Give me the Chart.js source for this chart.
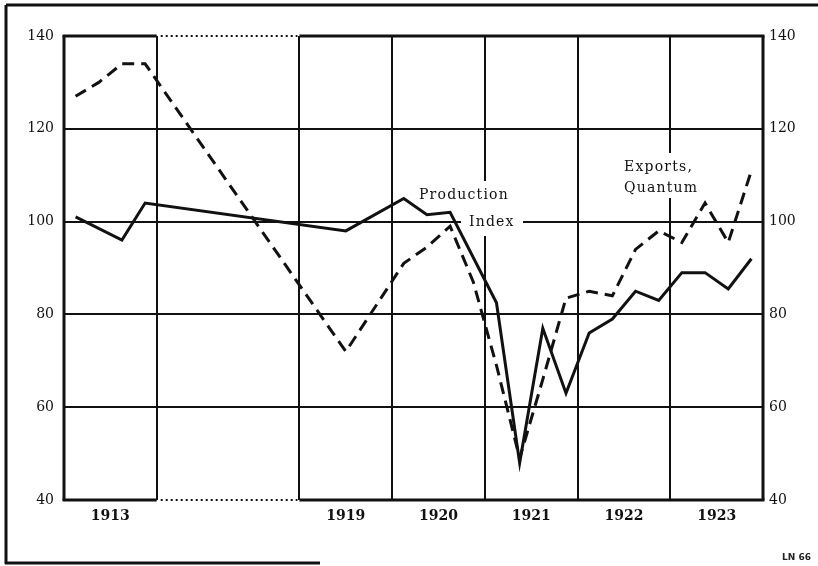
<!DOCTYPE html>
<html>
<head>
<meta charset="utf-8">
<script src="https://cdn.jsdelivr.net/npm/chart.js@4.4.0/dist/chart.umd.min.js"></script>
<style>
  html, body { margin: 0; padding: 0; background: #fff; }
  #wrap { width: 818px; height: 566px; position: relative; }
</style>
</head>
<body>
<div id="wrap"><canvas id="chart" width="818" height="566"></canvas></div>
<script>
// quarters of 1913, mid 1919, quarters 1920-1923
const periods = [1913.125, 1913.375, 1913.625, 1913.875, 1919.5,
  1920.125, 1920.375, 1920.625, 1920.875,
  1921.125, 1921.375, 1921.625, 1921.875,
  1922.125, 1922.375, 1922.625, 1922.875,
  1923.125, 1923.375, 1923.625, 1923.875];
const production = [101, null, 96, 104, 98,
  105, 101.5, 102, null,
  82.5, 48, 77, 63,
  76, 79, 85, 83,
  89, 89, 85.5, 92];
const exportsQty = [127, 130, 134, 134, 72,
  91, 94.5, 99, 87,
  69, 49, 66, 83.5,
  85, 84, 94, 98,
  95.5, 104, 95.5, 111];
const yearLabels = ['1913', '1919', '1920', '1921', '1922', '1923'];
const yearStarts = [1913, 1919, 1920, 1921, 1922, 1923];
const yTicks = [40, 60, 80, 100, 120, 140];

// the axis is broken between 1914 and 1919
const GAP = 1.54;
const pos = (t) => (t < 1919 ? t - 1913 + 1918 - GAP : t);

const X_MIN = pos(1913), X_MAX = 1924;
const boundaries = [pos(1914), 1919, 1920, 1921, 1922, 1923];
const centers = yearStarts.map((y) => pos(y + 0.5));

const toPoints = (arr) => periods.map((t, i) => ({ x: pos(t), y: arr[i] }));

const frame = {
  id: 'frame',
  beforeDatasetsDraw(chart) {
    const { ctx, chartArea: a, scales } = chart;
    const xs = scales.x;
    const g1 = xs.getPixelForValue(pos(1914));
    const g2 = xs.getPixelForValue(1919);
    ctx.save();
    ctx.strokeStyle = '#111';
    ctx.lineCap = 'butt';
    // top and bottom edges, dotted across the break
    [a.top, a.bottom].forEach((y) => {
      ctx.lineWidth = 3;
      ctx.setLineDash([]);
      ctx.beginPath();
      ctx.moveTo(a.left - 1.5, y); ctx.lineTo(g1, y);
      ctx.moveTo(g2, y); ctx.lineTo(a.right + 1.5, y);
      ctx.stroke();
      ctx.lineWidth = 2.2;
      ctx.setLineDash([2, 3]);
      ctx.beginPath();
      ctx.moveTo(g1 + 4, y); ctx.lineTo(g2 - 2, y);
      ctx.stroke();
    });
    ctx.setLineDash([]);
    ctx.lineWidth = 3;
    ctx.beginPath();
    ctx.moveTo(a.left, a.top); ctx.lineTo(a.left, a.bottom);
    ctx.moveTo(a.right, a.top); ctx.lineTo(a.right, a.bottom);
    ctx.stroke();

    // white patches behind the series labels
    ctx.fillStyle = '#fff';
    ctx.fillRect(461, 181, 62, 55);
    ctx.fillRect(614, 153, 98, 45);

    ctx.fillStyle = '#111';
    ctx.font = '14px "DejaVu Serif"';
    ctx.textBaseline = 'middle';
    ctx.textAlign = 'left';
    if ('letterSpacing' in ctx) ctx.letterSpacing = '1.2px';
    ctx.fillText('Production', 419, 195);
    ctx.fillText('Index', 469, 222);
    ctx.fillText('Exports,', 624, 167);
    ctx.fillText('Quantum', 624, 188);
    ctx.restore();
  },
  afterDraw(chart) {
    const { ctx } = chart;
    ctx.save();
    ctx.strokeStyle = '#111';
    ctx.lineWidth = 3;
    ctx.beginPath();
    ctx.moveTo(6, 5); ctx.lineTo(818, 5);
    ctx.moveTo(6, 5); ctx.lineTo(6, 564);
    ctx.moveTo(5, 563); ctx.lineTo(320, 563);
    ctx.stroke();
    ctx.fillStyle = '#222';
    ctx.font = 'bold 9px "DejaVu Sans"';
    ctx.textAlign = 'left';
    ctx.textBaseline = 'middle';
    ctx.fillText('LN 66', 782, 558);
    ctx.restore();
  }
};

const yAxis = (position, padding) => ({
  type: 'linear',
  position,
  min: 40,
  max: 140,
  afterBuildTicks: (s) => { s.ticks = yTicks.map((v) => ({ value: v })); },
  afterFit: (s) => { s.width = position === 'left' ? 64 : 818 - 763; },
  border: { display: false },
  grid: {
    display: position === 'left',
    drawTicks: false,
    color: (c) => (c.tick && (c.tick.value === 40 || c.tick.value === 140) ? 'rgba(0,0,0,0)' : '#111'),
    lineWidth: 2
  },
  ticks: {
    padding,
    color: '#111',
    font: { family: '"DejaVu Serif"', size: 14 }
  }
});

new Chart(document.getElementById('chart'), {
  type: 'line',
  data: {
    datasets: [
      {
        label: 'Production Index',
        data: toPoints(production),
        borderColor: '#111',
        borderWidth: 3,
        pointRadius: 0,
        spanGaps: true,
        yAxisID: 'y'
      },
      {
        label: 'Exports, Quantum',
        data: toPoints(exportsQty),
        borderColor: '#111',
        borderWidth: 3,
        borderDash: [12, 7],
        pointRadius: 0,
        spanGaps: true,
        yAxisID: 'y'
      }
    ]
  },
  options: {
    responsive: false,
    animation: false,
    layout: { padding: { top: 36, left: 0, right: 0, bottom: 0 } },
    plugins: { legend: { display: false }, tooltip: { enabled: false } },
    scales: {
      x: {
        type: 'linear',
        min: X_MIN,
        max: X_MAX,
        afterBuildTicks: (s) => {
          s.ticks = boundaries.concat(centers).sort((a, b) => a - b).map((v) => ({ value: v }));
        },
        afterFit: (s) => { s.height = 566 - 500; },
        border: { display: false },
        grid: {
          drawTicks: false,
          color: (c) => (c.tick && boundaries.includes(c.tick.value) ? '#111' : 'rgba(0,0,0,0)'),
          lineWidth: 2
        },
        ticks: {
          autoSkip: false,
          maxRotation: 0,
          padding: 8,
          color: '#111',
          font: { family: '"DejaVu Serif"', size: 14, weight: 'bold' },
          callback: (v) => {
            const i = centers.findIndex((c) => Math.abs(c - v) < 1e-6);
            return i >= 0 ? yearLabels[i] : '';
          }
        }
      },
      y: yAxis('left', 10),
      y2: yAxis('right', 6)
    }
  },
  plugins: [frame]
});
</script>
</body>
</html>
